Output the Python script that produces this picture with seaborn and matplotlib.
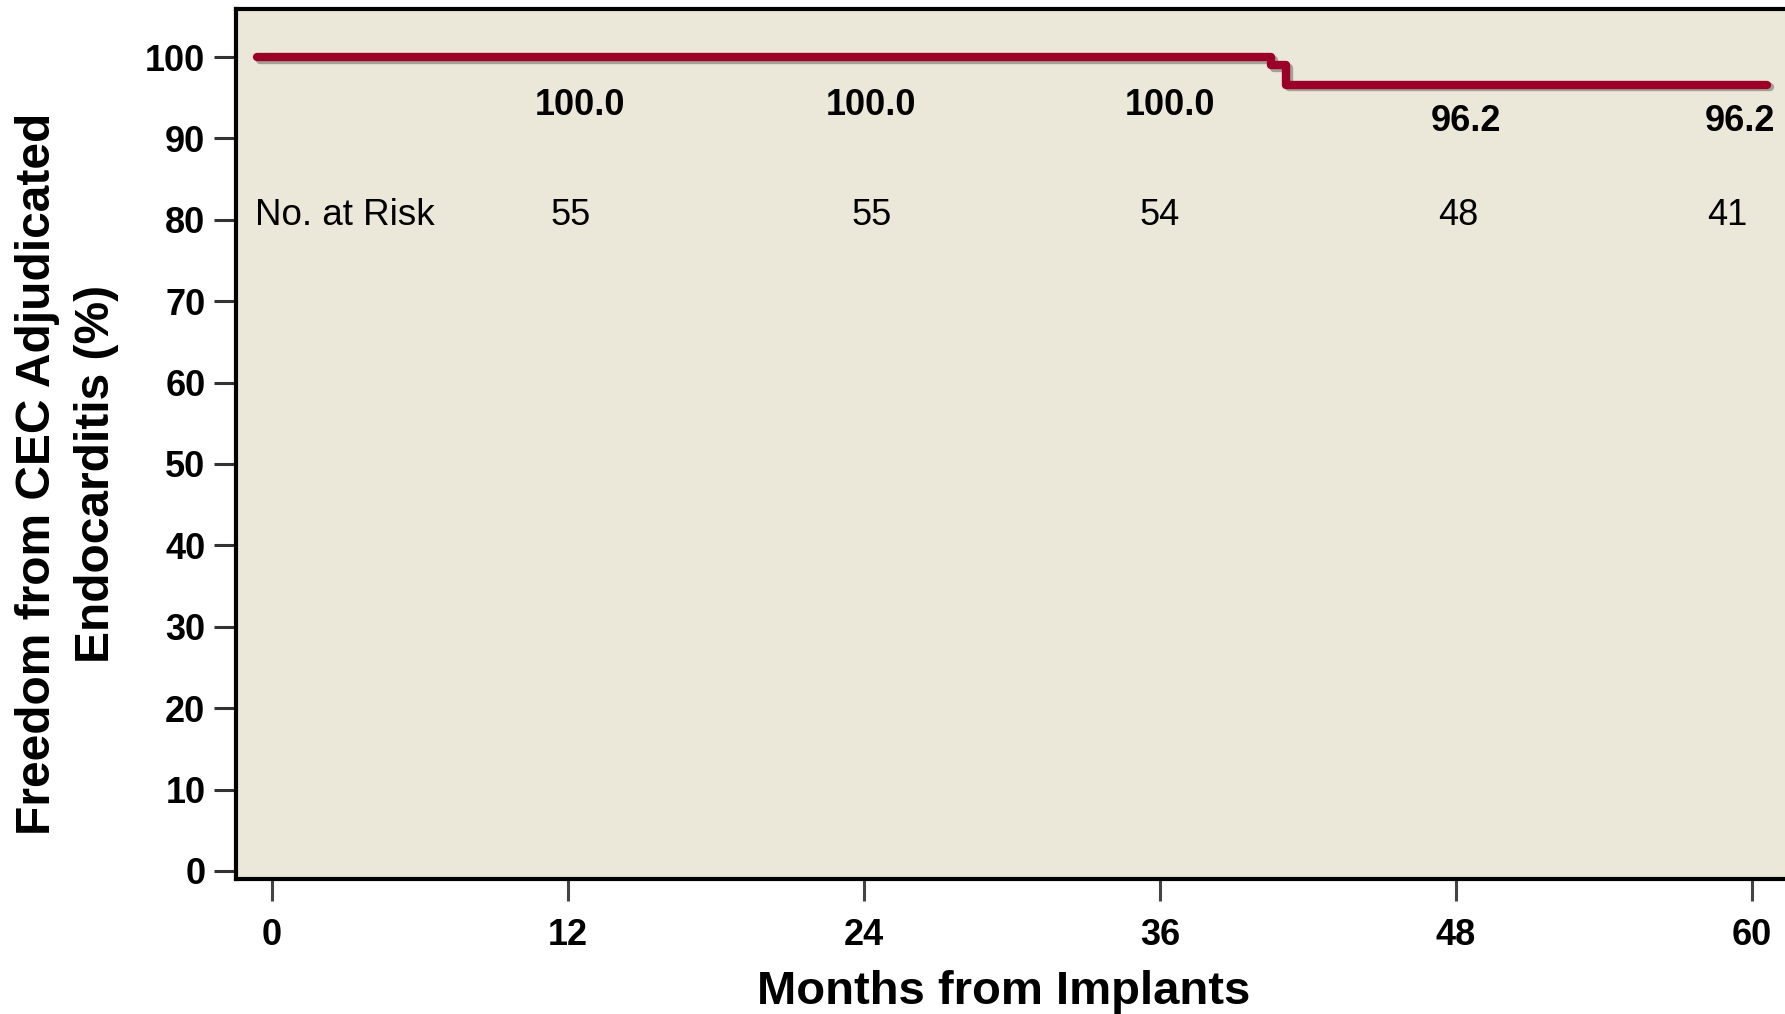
import matplotlib
matplotlib.use("Agg")
import matplotlib.pyplot as plt
import matplotlib.patheffects as pe
import seaborn as sns
import pandas as pd

# Kaplan-Meier step curve
months = [-0.6, 40.5, 41.1, 60.6]
freedom = [100.0, 99.0, 96.6, 96.6]

# landmark estimates and numbers at risk
landmarks = [12, 24, 36, 48, 60]
estimates = ["100.0", "100.0", "100.0", "96.2", "96.2"]
at_risk = ["55", "55", "54", "48", "41"]

sns.set_theme(style="ticks")
plt.rcParams['font.family'] = ['Liberation Sans', 'DejaVu Sans']
plt.rcParams.update({"text.color": "black", "axes.labelcolor": "black",
                     "xtick.color": "black", "ytick.color": "black"})

fig = plt.figure(figsize=(17.85, 10.14), dpi=100)
ax = fig.add_axes([0.1322, 0.1331, 0.877, 0.858])
ax.set_facecolor("#EBE8DA")

df = pd.DataFrame({"Months": months, "Freedom": freedom})
sns.lineplot(data=df, x="Months", y="Freedom", ax=ax, color="#9B0028",
             linewidth=6, drawstyle="steps-post", estimator=None,
             path_effects=[pe.SimpleLineShadow(offset=(2, -2), alpha=0.35),
                           pe.Normal()])

ax.set_xlim(-1.46, 62)
ax.set_ylim(-1.0, 105.9)
ax.set_xticks(range(0, 61, 12))
ax.set_yticks(range(0, 101, 10))

# estimate labels and the risk table inside the plot
est_nudge = [0.5, 0.3, 0.4, 0.4, -0.5]
risk_nudge = [0.1, 0.3, 0.0, 0.1, -1.0]
for i, (m, est, n) in enumerate(zip(landmarks, estimates, at_risk)):
    y_est = 94.1 if est == "100.0" else 92.1
    ax.text(m + est_nudge[i], y_est, est, ha="center", va="center",
            fontsize=26, fontweight="bold")
    ax.text(m + risk_nudge[i], 80.5, n, ha="center", va="center",
            fontsize=26)
ax.text(-0.7, 80.5, "No. at Risk", ha="left", va="center", fontsize=26.5)

for side in ["left", "bottom", "top", "right"]:
    ax.spines[side].set_linewidth(3)
    ax.spines[side].set_color("black")

ax.tick_params(axis="y", direction="out", length=16, width=2.2,
               color="#333333", pad=6, labelsize=26)
ax.tick_params(axis="x", direction="out", length=16, width=2.2,
               color="#444444", pad=12, labelsize=26)
for lab in ax.get_xticklabels() + ax.get_yticklabels():
    lab.set_fontweight("bold")

ax.set_xlabel("Months from Implants", fontsize=34, fontweight="bold")
ax.xaxis.set_label_coords(0.4906, -0.105)
ax.set_ylabel("Freedom from CEC Adjudicated\nEndocarditis (%)", fontsize=34.5,
              fontweight="bold", linespacing=1.4)
ax.yaxis.set_label_coords(-0.075, 0.4655)

fig.savefig("out.png", dpi=100)
